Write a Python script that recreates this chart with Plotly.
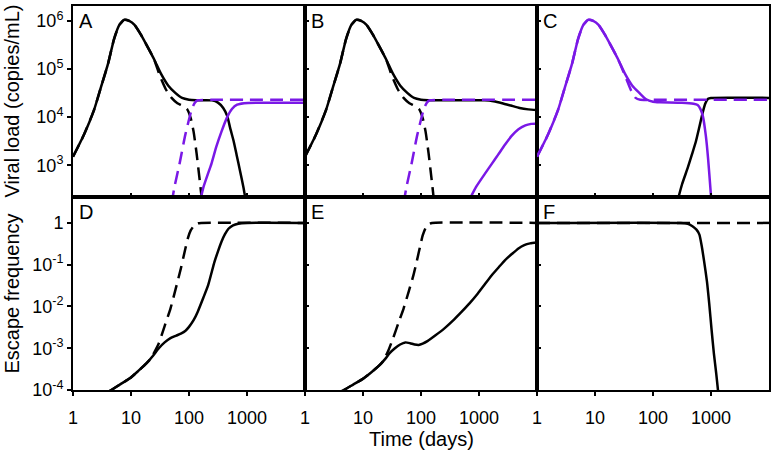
import plotly.graph_objects as go
from plotly.subplots import make_subplots

# ---------------- data ----------------
# time in days
t_peak = [1, 1.5, 2.3, 3, 4, 5.1, 6.3, 7.6, 9.3, 11.5, 14.8, 19, 25, 33, 44, 58, 76, 100, 132]
v_peak = [1500, 4000, 14000, 40000, 126000, 420000, 830000, 1050000, 1000000, 830000,
          520000, 300000, 160000, 79000, 45000, 32000, 25000, 23000, 22400]

# Panel A
a_t_black = t_peak + [250, 316, 389, 457, 513, 589, 661, 759, 871, 955]
a_v_black = v_peak + [22300, 20000, 15500, 10500, 5900, 3160, 1660, 760, 340, 178]
a_t_black_dash = [1, 1.5, 2.3, 3, 4, 5.1, 6.3, 7.6, 9.3, 11.5, 14.8, 19, 25,
                  31.6, 39.8, 50.1, 63.1, 79.4, 93.3, 107, 120, 135, 151, 166, 174]
a_v_black_dash = [1500, 4000, 14000, 40000, 126000, 420000, 830000, 1050000, 1000000, 830000,
                  520000, 300000, 160000,
                  70800, 38000, 25100, 19500, 17000, 14500, 9550, 5000, 1780, 560, 200, 100]
a_t_purple_dash = [50.1, 56.2, 69.2, 85.1, 100, 112, 126, 141, 316, 10000]
a_v_purple_dash = [160, 355, 1120, 3980, 8900, 14800, 20000, 22400, 22900, 22900]
a_t_purple = [155, 178, 209, 245, 295, 363, 447, 550, 676, 891, 1585, 10000]
a_v_purple = [178, 355, 631, 1100, 2400, 5000, 9550, 14800, 18200, 19500, 20000, 20000]

# Panel B
b_t_black = t_peak + [1260, 1780, 2510, 3550, 5010, 7080, 10000]
b_v_black = v_peak + [22400, 21400, 19500, 17400, 15500, 14500, 14100]
b_t_black_dash = a_t_black_dash
b_v_black_dash = a_v_black_dash
b_t_purple_dash = a_t_purple_dash
b_v_purple_dash = a_v_purple_dash
b_t_purple = [661, 891, 1260, 1660, 2140, 2820, 3720, 4790, 6310, 7940, 10000]
b_v_purple = [178, 355, 661, 1070, 1660, 2690, 4170, 5620, 6760, 7240, 7410]

# Panel C
c_t_purple = [1, 1.5, 2.3, 3, 4, 5.1, 6.3, 7.6, 9.3, 11.5, 14.8, 19, 25, 33, 44, 58, 76, 100,
              132, 316, 501, 589, 661, 724, 813, 891, 977, 1023]
c_v_purple = [1500, 4000, 14000, 40000, 126000, 420000, 830000, 1050000, 1000000, 830000,
              520000, 300000, 160000, 79000, 45000, 32000, 23500, 20900,
              20400, 20000, 19000, 17800, 14500, 10500, 4170, 1380, 331, 158]
c_t_purple_dash = [1, 1.5, 2.3, 3, 4, 5.1, 6.3, 7.6, 9.3, 11.5, 14.8, 19, 25,
                   33, 41.7, 50.1, 60.3, 100, 10000]
c_v_purple_dash = [1500, 4000, 14000, 40000, 126000, 420000, 830000, 1050000, 1000000, 830000,
                   520000, 300000, 160000,
                   72400, 36300, 25100, 22900, 22900, 22900]
c_t_black = [257, 316, 398, 468, 550, 631, 708, 794, 891, 1000, 10000]
c_v_black = [158, 398, 891, 1660, 3160, 6310, 11500, 19000, 24000, 25100, 25100]

# Panel D (escape frequency)
d_t = [3.98, 4.57, 6.61, 9.55, 13.5, 18.6, 24, 30.2, 38, 47.9, 60.3, 72.4, 87.1, 100, 120, 141,
       178, 214, 275, 316, 363, 417, 479, 575, 708, 1000, 10000]
d_f = [8.9e-5, 1.0e-4, 1.38e-4, 1.9e-4, 2.9e-4, 4.4e-4, 6.6e-4, 1.0e-3, 1.38e-3, 1.74e-3,
       2.0e-3, 2.24e-3, 2.63e-3, 3.24e-3, 4.68e-3, 7.4e-3, 0.0166, 0.0324, 0.117, 0.209, 0.355,
       0.537, 0.724, 0.871, 0.955, 1.0, 1.0]
d_t_dash = [3.98, 4.57, 6.61, 9.55, 13.5, 18.6, 21.4, 25.1, 30.2, 38, 47.9, 58.9, 72.4, 85.1,
            95.5, 107, 123, 141, 162, 10000]
d_f_dash = [8.9e-5, 1.0e-4, 1.38e-4, 1.9e-4, 2.9e-4, 4.4e-4, 5.4e-4, 7.9e-4, 1.32e-3, 3.4e-3,
            8.9e-3, 0.0263, 0.081, 0.219, 0.427, 0.66, 0.871, 0.977, 1.0, 1.0]

# Panel E
e_t = [3.98, 4.68, 6.76, 9.77, 13.8, 19.5, 24, 28.8, 35.5, 43.7, 53.7, 64.6, 77.6, 91.2, 107,
       129, 178, 251, 355, 490, 692, 955, 1260, 1660, 2190, 2820, 3720, 4790, 6030, 7590, 10000]
e_f = [8.9e-5, 1.0e-4, 1.35e-4, 1.82e-4, 2.63e-4, 4.0e-4, 5.5e-4, 7.6e-4, 1.0e-3, 1.23e-3,
       1.38e-3, 1.32e-3, 1.23e-3, 1.2e-3, 1.29e-3, 1.48e-3, 2.04e-3, 2.95e-3, 4.57e-3, 7.2e-3,
       0.012, 0.0204, 0.0339, 0.056, 0.087, 0.129, 0.182, 0.245, 0.295, 0.324, 0.339]
e_t_dash = [3.98, 4.68, 6.76, 9.77, 13.8, 19.5, 22.4, 26.9, 33.1, 40.7, 50.1, 61.7, 74.1, 85.1,
            97.7, 107, 120, 135, 155, 10000]
e_f_dash = [8.9e-5, 1.0e-4, 1.35e-4, 1.82e-4, 2.63e-4, 4.0e-4, 5.0e-4, 8.3e-4, 1.74e-3, 4.0e-3,
            8.9e-3, 0.0234, 0.056, 0.126, 0.295, 0.50, 0.76, 0.93, 1.0, 1.0]

# Panel F
f_t = [1, 302, 398, 479, 562, 631, 692, 759, 851, 933, 1023, 1122, 1230, 1318, 1380]
f_f = [1.0, 1.0, 0.955, 0.83, 0.69, 0.525, 0.28, 0.123, 0.040, 0.0115, 0.0028, 7.4e-4,
       2.5e-4, 1.0e-4, 5e-5]
f_t_dash = [1, 10000]
f_f_dash = [1.0, 1.0]

x_tickvals = [1, 10, 100, 1000]
x_ticktext = ["1", "10", "100", "1000"]
vl_tickvals = [1e3, 1e4, 1e5, 1e6]
vl_ticktext = ["10<sup>3</sup>", "10<sup>4</sup>", "10<sup>5</sup>", "10<sup>6</sup>"]
ef_tickvals = [1e-4, 1e-3, 1e-2, 1e-1, 1]
ef_ticktext = ["10<sup>-4</sup>", "10<sup>-3</sup>", "10<sup>-2</sup>", "10<sup>-1</sup>", "1"]
panel_letters = ["A", "B", "C", "D", "E", "F"]

# ---------------- styling ----------------
BLACK = "#000000"
PURPLE = "#7A18E6"
LW = 2.5
DASH = "13px,7px"
FONT = "Arial, Liberation Sans, sans-serif"

fig = make_subplots(rows=2, cols=3, horizontal_spacing=0, vertical_spacing=0)


def add(row, col, t, v, color, dashed):
    fig.add_trace(go.Scatter(
        x=t, y=v, mode="lines",
        line=dict(color=color, width=LW, dash=DASH if dashed else "solid",
                  shape="spline", smoothing=0.5),
        showlegend=False, hoverinfo="skip"), row=row, col=col)


# A
add(1, 1, a_t_black, a_v_black, BLACK, False)
add(1, 1, a_t_black_dash, a_v_black_dash, BLACK, True)
add(1, 1, a_t_purple, a_v_purple, PURPLE, False)
add(1, 1, a_t_purple_dash, a_v_purple_dash, PURPLE, True)
# B
add(1, 2, b_t_black, b_v_black, BLACK, False)
add(1, 2, b_t_black_dash, b_v_black_dash, BLACK, True)
add(1, 2, b_t_purple, b_v_purple, PURPLE, False)
add(1, 2, b_t_purple_dash, b_v_purple_dash, PURPLE, True)
# C
add(1, 3, c_t_black, c_v_black, BLACK, False)
add(1, 3, c_t_purple, c_v_purple, PURPLE, False)
add(1, 3, c_t_purple_dash, c_v_purple_dash, PURPLE, True)
# D
add(2, 1, d_t, d_f, BLACK, False)
add(2, 1, d_t_dash, d_f_dash, BLACK, True)
# E
add(2, 2, e_t, e_f, BLACK, False)
add(2, 2, e_t_dash, e_f_dash, BLACK, True)
# F
add(2, 3, f_t_dash, f_f_dash, BLACK, True)
add(2, 3, f_t, f_f, BLACK, False)

split = 194 / 386
xdomains = [[0, 1 / 3], [1 / 3, 2 / 3], [2 / 3, 1]]

common_axis = dict(showline=True, linewidth=2, linecolor=BLACK, mirror=True,
                   showgrid=False, zeroline=False, ticklen=4, tickwidth=1.5,
                   tickcolor=BLACK, tickfont=dict(size=18, color=BLACK, family=FONT))

for row in (1, 2):
    for col in (1, 2, 3):
        xa = dict(common_axis, type="log", range=[0, 4], domain=xdomains[col - 1],
                  tickvals=x_tickvals, ticktext=x_ticktext)
        if row == 1:
            xa.update(ticks="inside", showticklabels=False)
        else:
            xa.update(ticks="outside", showticklabels=True, ticklabelstandoff=6)
        fig.update_xaxes(xa, row=row, col=col)

        if row == 1:
            ya = dict(common_axis, type="log", range=[2.34, 6.31], domain=[split, 1],
                      tickvals=vl_tickvals, ticktext=vl_ticktext)
        else:
            ya = dict(common_axis, type="log", range=[-4, 0.62], domain=[0, split],
                      tickvals=ef_tickvals, ticktext=ef_ticktext)
        if col == 1:
            ya.update(ticks="outside", showticklabels=True)
        else:
            ya.update(ticks="inside", showticklabels=False)
        fig.update_yaxes(ya, row=row, col=col)

annotations = []
axis_ids = ["", "2", "3", "4", "5", "6"]
for i, letter in enumerate(panel_letters):
    annotations.append(dict(
        text=letter, xref=f"x{axis_ids[i]} domain", yref=f"y{axis_ids[i]} domain",
        x=0, y=1, xanchor="left", yanchor="top", xshift=4, yshift=-2, showarrow=False,
        font=dict(size=20, color=BLACK, family=FONT)))

annotations.append(dict(text="Viral load (copies/mL)", xref="paper", yref="paper",
                        x=-0.089, y=(split + 1) / 2, xanchor="center", yanchor="middle",
                        textangle=-90, showarrow=False,
                        font=dict(size=20, color=BLACK, family=FONT)))
annotations.append(dict(text="Escape frequency", xref="paper", yref="paper",
                        x=-0.089, y=split / 2, xanchor="center", yanchor="middle",
                        textangle=-90, showarrow=False,
                        font=dict(size=20, color=BLACK, family=FONT)))
annotations.append(dict(text="Time (days)", xref="paper", yref="paper",
                        x=0.5, y=0, yshift=-49, xanchor="center", yanchor="middle",
                        showarrow=False, font=dict(size=20, color=BLACK, family=FONT)))

fig.update_layout(width=776, height=453, margin=dict(l=73, r=7, t=4, b=63),
                  paper_bgcolor="white", plot_bgcolor="white",
                  font=dict(family=FONT, color=BLACK),
                  annotations=annotations)

fig.write_html("out.html", config={"displayModeBar": False},
               post_script="document.body.style.margin='0px';document.body.style.overflow='hidden';")
